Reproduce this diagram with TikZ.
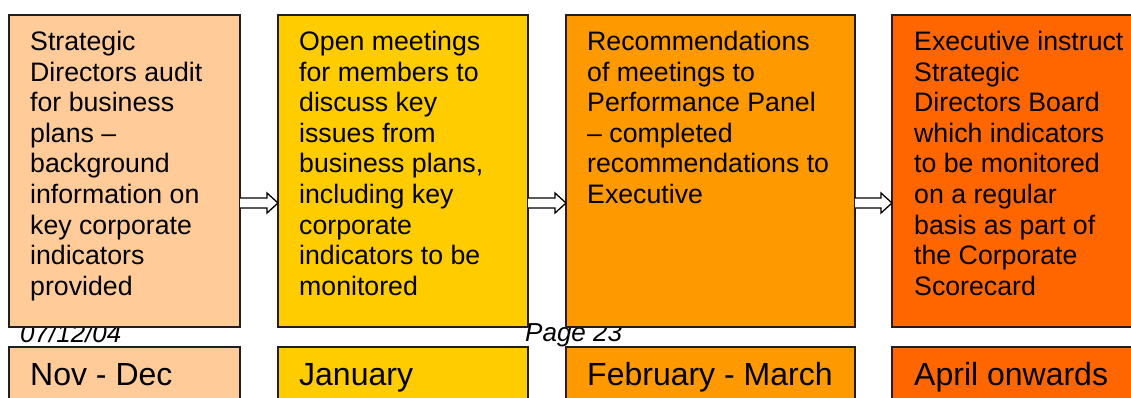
\documentclass[tikz,border=0pt]{standalone}
\usepackage{fontspec}
\setmainfont{Liberation Sans}
\usetikzlibrary{calc}
\definecolor{stageA}{HTML}{FFCC99}
\definecolor{stageB}{HTML}{FFCC00}
\definecolor{stageC}{HTML}{FF9900}
\definecolor{stageD}{HTML}{FF6600}
\begin{document}
\begin{tikzpicture}[x=1pt,y=-1pt,
  panel/.style={draw=black!88, line width=1.5pt, anchor=north west, inner sep=0, outer sep=0},
  bodytext/.style={anchor=base west, inner sep=0, font=\fontsize{26.7}{30.6}\selectfont},
  period/.style={anchor=base west, inner sep=0, font=\fontsize{32}{38}\selectfont},
  footer/.style={anchor=base west, inner sep=0, font=\fontsize{26}{30}\selectfont\itshape},
  flow/.style={draw=black, line width=1.3pt, fill=white, line join=miter}]
\useasboundingbox (0,0) rectangle (1131,397);
\clip (0,0) rectangle (1131,397);
\fill[white] (0,0) rectangle (1131,397);

% footer texts (partly hidden behind the panels)
\node[footer] (date) at (20,342) {07/12/04};
\node[footer] (page) at (525,341) {Page 23};

% upper panels
\node[panel, fill=stageA, minimum width=231pt, minimum height=312pt] (b1) at (9,15) {};
\node[panel, fill=stageB, minimum width=250pt, minimum height=312pt] (b2) at (278,15) {};
\node[panel, fill=stageC, minimum width=289pt, minimum height=312pt] (b3) at (566,15) {};
\node[panel, fill=stageD, minimum width=280pt, minimum height=312pt] (b4) at (892,15) {};

% lower panels
\node[panel, fill=stageA, minimum width=231pt, minimum height=80pt] (p1) at (9,347) {};
\node[panel, fill=stageB, minimum width=250pt, minimum height=80pt] (p2) at (278,347) {};
\node[panel, fill=stageC, minimum width=289pt, minimum height=80pt] (p3) at (566,347) {};
\node[panel, fill=stageD, minimum width=280pt, minimum height=80pt] (p4) at (892,347) {};

% panel texts
\node[bodytext] (t1) at ($(b1.north west)+(21,35.5)$) {\parbox[t]{300pt}{Strategic\\Directors audit\\for business\\plans –\\background\\information on\\key corporate\\indicators\\provided}};
\node[bodytext] (t2) at ($(b2.north west)+(21,35.5)$) {\parbox[t]{300pt}{Open meetings\\for members to\\discuss key\\issues from\\business plans,\\including key\\corporate\\indicators to be\\monitored}};
\node[bodytext] (t3) at ($(b3.north west)+(21,35.5)$) {\parbox[t]{300pt}{Recommendations\\of meetings to\\Performance Panel\\– completed\\recommendations to\\Executive}};
\node[bodytext] (t4) at ($(b4.north west)+(22,35.5)$) {\parbox[t]{300pt}{Executive instruct\\Strategic\\Directors Board\\which indicators\\to be monitored\\on a regular\\basis as part of\\the Corporate\\Scorecard}};

\node[period] (q1) at ($(p1.north west)+(21,38)$) {Nov - Dec};
\node[period] (q2) at ($(p2.north west)+(21,38)$) {January};
\node[period] (q3) at ($(p3.north west)+(21,38)$) {February - March};
\node[period] (q4) at ($(p4.north west)+(22,38)$) {April onwards};

% hollow block arrows between the panels
\foreach \a/\b in {b1/b2, b2/b3, b3/b4} {
  \draw[flow] ($(\a.east)+(0,27)$) -- ($(\b.west)+(-11,27)$) -- ($(\b.west)+(-11,22)$)
    -- ($(\b.west)+(0,32)$) -- ($(\b.west)+(-11,42)$) -- ($(\b.west)+(-11,37)$)
    -- ($(\a.east)+(0,37)$);
}
\end{tikzpicture}
\end{document}
